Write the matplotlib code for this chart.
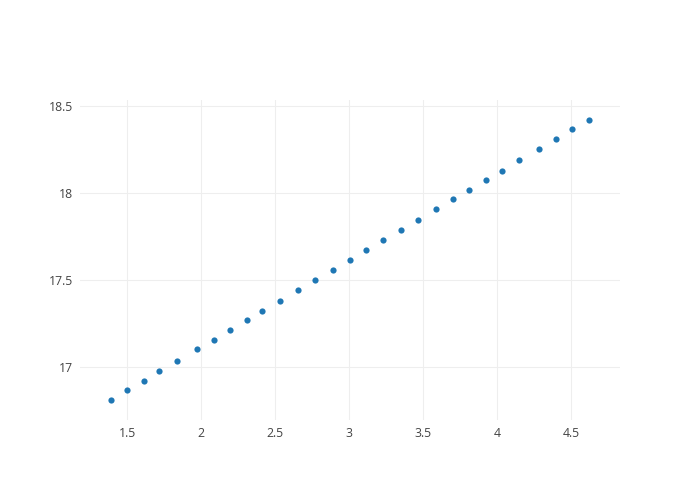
import matplotlib.pyplot as plt

# values
X = [1.390, 1.500, 1.613, 1.718, 1.838, 1.971, 2.086, 2.196, 2.311, 2.414,
     2.534, 2.653, 2.772, 2.890, 3.005, 3.113, 3.230, 3.349, 3.468, 3.588,
     3.701, 3.811, 3.926, 4.032, 4.149, 4.284, 4.397, 4.507, 4.622]
Y = [16.810, 16.866, 16.921, 16.975, 17.034, 17.102, 17.157, 17.213, 17.268, 17.322,
     17.381, 17.441, 17.502, 17.559, 17.617, 17.671, 17.728, 17.787, 17.847, 17.906,
     17.964, 18.019, 18.075, 18.128, 18.188, 18.253, 18.310, 18.366, 18.421]
XTICKS = [1.5, 2, 2.5, 3, 3.5, 4, 4.5]
XLABELS = ["1.5", "2", "2.5", "3", "3.5", "4", "4.5"]
YTICKS = [17, 17.5, 18, 18.5]
YLABELS = ["17", "17.5", "18", "18.5"]

plt.rcParams['font.family'] = ['Open Sans', 'DejaVu Sans']

fig = plt.figure(figsize=(7, 5), dpi=100)
ax = fig.add_axes([80/700, 80/500, 540/700, 320/500])

ax.scatter(X, Y, s=20, color='#1f77b4', linewidths=0, zorder=3)

ax.set_xlim(1.182, 4.831)
ax.set_ylim(16.695, 18.534)
ax.set_xticks(XTICKS, XLABELS)
ax.set_yticks(YTICKS, YLABELS)
ax.grid(True, color='#eeeeee', linewidth=0.8)
ax.set_axisbelow(True)
for s in ax.spines.values():
    s.set_visible(False)
ax.tick_params(length=0, labelsize=8.8, labelcolor='#444444', pad=5)

fig.savefig('out.png', dpi=100)
